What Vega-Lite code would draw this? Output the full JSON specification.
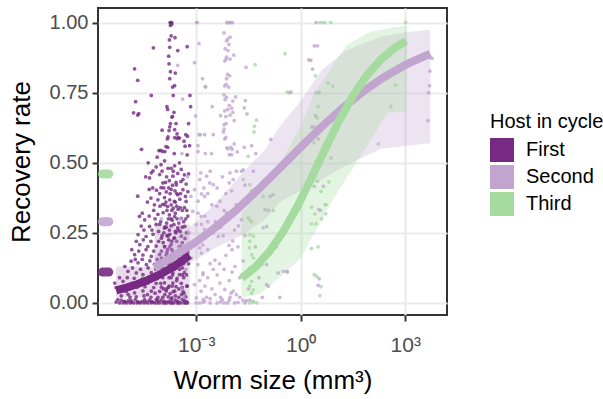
{
  "$schema": "https://vega.github.io/schema/vega-lite/v6.json",
  "width": 349,
  "height": 307,
  "autosize": {"type": "none"},
  "padding": {"left": 98, "top": 8, "right": 156, "bottom": 84},
  "background": "white",
  "config": {
    "font": "Liberation Sans",
    "view": {"stroke": "#333333", "strokeWidth": 2},
    "axis": {
      "domain": false,
      "tickColor": "#333333",
      "tickWidth": 2,
      "tickSize": 6,
      "labelFontSize": 20,
      "labelColor": "#4d4d4d",
      "labelPadding": 4,
      "titleFontSize": 26,
      "titleFontWeight": "normal",
      "titleColor": "black",
      "gridColor": "#ebebeb",
      "gridWidth": 2.2
    },
    "axisY": {"titlePadding": 15},
    "axisX": {"titlePadding": 12, "labelPadding": 13, "labelFontSize": 21},
    "legend": {"orient": "none", "legendX": 392, "legendY": 104, "titleFontSize": 20, "titleFontWeight": "normal", "titleColor": "black", "labelFontSize": 20, "labelColor": "black", "symbolType": "square", "symbolSize": 576, "symbolStrokeWidth": 0, "rowPadding": 3, "labelOffset": 12, "titlePadding": 6, "padding": 0}
  },
  "datasets": {
    "points": [
      {"host":"First","logsize":-3.75,"rate":1},{"host":"First","logsize":-3.72,"rate":1},{"host":"First","logsize":-3.70,"rate":0.995},{"host":"First","logsize":-3.74,"rate":0.99},{"host":"First","logsize":-3.71,"rate":1},
      {"host":"First","logsize":-3.72,"rate":0.953},{"host":"First","logsize":-3.61,"rate":0.946},{"host":"First","logsize":-3.77,"rate":0.938},{"host":"First","logsize":-4.23,"rate":0.91},{"host":"First","logsize":-3.76,"rate":0.912},{"host":"First","logsize":-3.53,"rate":0.90},{"host":"First","logsize":-3.26,"rate":0.914},{"host":"First","logsize":-3.79,"rate":0.88},{"host":"First","logsize":-3.78,"rate":0.853},{"host":"First","logsize":-4.77,"rate":0.835},{"host":"First","logsize":-3.74,"rate":0.825},{"host":"First","logsize":-3.60,"rate":0.82},{"host":"First","logsize":-3.76,"rate":0.80},{"host":"First","logsize":-4.68,"rate":0.794},{"host":"First","logsize":-3.68,"rate":0.77},{"host":"First","logsize":-3.62,"rate":0.775},{"host":"First","logsize":-4.29,"rate":0.74},{"host":"First","logsize":-3.66,"rate":0.74},{"host":"First","logsize":-3.18,"rate":0.74},{"host":"First","logsize":-4.74,"rate":0.718},{"host":"First","logsize":-4.80,"rate":0.678},{"host":"First","logsize":-4.68,"rate":0.67},{"host":"First","logsize":-4.65,"rate":0.675},{"host":"First","logsize":-3.84,"rate":0.70},{"host":"First","logsize":-3.82,"rate":0.69},{"host":"First","logsize":-3.64,"rate":0.68},{"host":"First","logsize":-3.16,"rate":0.70},{"host":"First","logsize":-3.70,"rate":0.663},{"host":"First","logsize":-3.68,"rate":0.665},{"host":"First","logsize":-3.74,"rate":0.64},{"host":"First","logsize":-3.58,"rate":0.64},{"host":"First","logsize":-3.22,"rate":0.64},{"host":"First","logsize":-3.76,"rate":0.628},{"host":"First","logsize":-3.98,"rate":0.616},{"host":"First","logsize":-3.78,"rate":0.615},{"host":"First","logsize":-3.62,"rate":0.618},{"host":"First","logsize":-3.55,"rate":0.603},{"host":"First","logsize":-3.52,"rate":0.59},{"host":"First","logsize":-3.62,"rate":0.59},{"host":"First","logsize":-3.48,"rate":0.588},{"host":"First","logsize":-3.81,"rate":0.592},{"host":"First","logsize":-3.83,"rate":0.585},{"host":"First","logsize":-3.30,"rate":0.60},{"host":"First","logsize":-3.25,"rate":0.595},{"host":"First","logsize":-3.35,"rate":0.577},{"host":"First","logsize":-3.55,"rate":0.586},{"host":"First","logsize":-3.19,"rate":0.561},{"host":"First","logsize":-3.87,"rate":0.558},{"host":"First","logsize":-3.82,"rate":0.555},{"host":"First","logsize":-4.57,"rate":0.548},{"host":"First","logsize":-4.07,"rate":0.543},{"host":"First","logsize":-4.02,"rate":0.544},{"host":"First","logsize":-3.97,"rate":0.541},{"host":"First","logsize":-3.90,"rate":0.54},{"host":"First","logsize":-3.63,"rate":0.533},{"host":"First","logsize":-3.32,"rate":0.559},{"host":"First","logsize":-3.26,"rate":0.528},
      {"host":"First","logsize":-4.29,"rate":0.464},{"host":"First","logsize":-4.15,"rate":0.485},{"host":"First","logsize":-4.01,"rate":0.493},{"host":"First","logsize":-3.91,"rate":0.507},{"host":"First","logsize":-4.05,"rate":0.458},{"host":"First","logsize":-4.34,"rate":0.446},{"host":"First","logsize":-4.24,"rate":0.471},{"host":"First","logsize":-3.81,"rate":0.48},{"host":"First","logsize":-3.62,"rate":0.489},{"host":"First","logsize":-3.53,"rate":0.462},{"host":"First","logsize":-3.43,"rate":0.476},{"host":"First","logsize":-3.67,"rate":0.452},{"host":"First","logsize":-3.34,"rate":0.457},
      {"host":"First","logsize":-3.96,"rate":0.428},{"host":"First","logsize":-3.77,"rate":0.436},{"host":"First","logsize":-3.57,"rate":0.421},{"host":"First","logsize":-3.44,"rate":0.433},{"host":"First","logsize":-3.29,"rate":0.424},{"host":"First","logsize":-3.24,"rate":0.397},{"host":"First","logsize":-4.35,"rate":0.405},{"host":"First","logsize":-4.14,"rate":0.402},{"host":"First","logsize":-4.01,"rate":0.411},{"host":"First","logsize":-3.86,"rate":0.396},{"host":"First","logsize":-3.72,"rate":0.405},{"host":"First","logsize":-3.53,"rate":0.386},{"host":"First","logsize":-3.38,"rate":0.404},
      {"host":"First","logsize":-4.68,"rate":0.381},{"host":"First","logsize":-4.30,"rate":0.374},{"host":"First","logsize":-4.10,"rate":0.368},{"host":"First","logsize":-3.91,"rate":0.376},{"host":"First","logsize":-3.76,"rate":0.368},{"host":"First","logsize":-3.63,"rate":0.362},{"host":"First","logsize":-3.47,"rate":0.37},{"host":"First","logsize":-3.29,"rate":0.362},
      {"host":"First","logsize":-4.20,"rate":0.35},{"host":"First","logsize":-3.96,"rate":0.352},{"host":"First","logsize":-3.82,"rate":0.344},{"host":"First","logsize":-3.66,"rate":0.338},{"host":"First","logsize":-3.52,"rate":0.334},{"host":"First","logsize":-3.34,"rate":0.34},
      {"host":"First","logsize":-4.63,"rate":0.309},{"host":"First","logsize":-4.48,"rate":0.296},{"host":"First","logsize":-4.10,"rate":0.316},{"host":"First","logsize":-3.95,"rate":0.322},{"host":"First","logsize":-3.77,"rate":0.314},{"host":"First","logsize":-3.62,"rate":0.308},{"host":"First","logsize":-3.43,"rate":0.302},{"host":"First","logsize":-3.24,"rate":0.31},
      {"host":"First","logsize":-4.58,"rate":0.274},{"host":"First","logsize":-4.34,"rate":0.273},{"host":"First","logsize":-4.15,"rate":0.28},{"host":"First","logsize":-3.91,"rate":0.267},{"host":"First","logsize":-3.72,"rate":0.275},{"host":"First","logsize":-3.53,"rate":0.268},{"host":"First","logsize":-3.33,"rate":0.273},
      {"host":"First","logsize":-4.67,"rate":0.244},{"host":"First","logsize":-4.44,"rate":0.237},{"host":"First","logsize":-4.24,"rate":0.245},{"host":"First","logsize":-4.00,"rate":0.231},{"host":"First","logsize":-3.81,"rate":0.239},{"host":"First","logsize":-3.62,"rate":0.232},{"host":"First","logsize":-3.43,"rate":0.238},
      {"host":"First","logsize":-4.62,"rate":0.208},{"host":"First","logsize":-4.39,"rate":0.201},{"host":"First","logsize":-4.15,"rate":0.203},{"host":"First","logsize":-3.91,"rate":0.201},{"host":"First","logsize":-3.72,"rate":0.209},{"host":"First","logsize":-3.48,"rate":0.202},
      {"host":"First","logsize":-4.77,"rate":0.172},{"host":"First","logsize":-4.53,"rate":0.171},{"host":"First","logsize":-4.29,"rate":0.166},{"host":"First","logsize":-4.05,"rate":0.173},{"host":"First","logsize":-3.86,"rate":0.171},{"host":"First","logsize":-3.62,"rate":0.172},{"host":"First","logsize":-3.38,"rate":0.171},
      {"host":"First","logsize":-4.87,"rate":0.149},{"host":"First","logsize":-4.67,"rate":0.143},{"host":"First","logsize":-4.43,"rate":0.137},{"host":"First","logsize":-4.20,"rate":0.138},{"host":"First","logsize":-3.95,"rate":0.136},{"host":"First","logsize":-3.77,"rate":0.137},{"host":"First","logsize":-3.53,"rate":0.136},
      {"host":"First","logsize":-4.96,"rate":0.113},{"host":"First","logsize":-4.72,"rate":0.107},{"host":"First","logsize":-4.53,"rate":0.101},{"host":"First","logsize":-4.29,"rate":0.108},{"host":"First","logsize":-4.10,"rate":0.1},{"host":"First","logsize":-3.91,"rate":0.106},{"host":"First","logsize":-3.67,"rate":0.107},{"host":"First","logsize":-3.48,"rate":0.101},{"host":"First","logsize":-3.34,"rate":0.108},
      {"host":"First","logsize":-5.34,"rate":0.071},{"host":"First","logsize":-5.10,"rate":0.077},{"host":"First","logsize":-4.86,"rate":0.07},{"host":"First","logsize":-4.63,"rate":0.072},{"host":"First","logsize":-4.39,"rate":0.071},{"host":"First","logsize":-4.15,"rate":0.07},{"host":"First","logsize":-3.91,"rate":0.072},{"host":"First","logsize":-3.67,"rate":0.071},{"host":"First","logsize":-3.43,"rate":0.07},
      {"host":"First","logsize":-5.20,"rate":0.042},{"host":"First","logsize":-5.01,"rate":0.041},{"host":"First","logsize":-4.77,"rate":0.036},{"host":"First","logsize":-4.53,"rate":0.043},{"host":"First","logsize":-4.29,"rate":0.042},{"host":"First","logsize":-4.05,"rate":0.041},{"host":"First","logsize":-3.86,"rate":0.043},{"host":"First","logsize":-3.62,"rate":0.042},{"host":"First","logsize":-3.38,"rate":0.041},
      {"host":"First","logsize":-5.25,"rate":0.012},{"host":"First","logsize":-5.06,"rate":0.006},{"host":"First","logsize":-4.87,"rate":0.008},{"host":"First","logsize":-4.68,"rate":0.005},{"host":"First","logsize":-4.48,"rate":0.012},{"host":"First","logsize":-4.29,"rate":0.006},{"host":"First","logsize":-4.10,"rate":0.008},{"host":"First","logsize":-3.91,"rate":0.006},{"host":"First","logsize":-3.72,"rate":0.012},{"host":"First","logsize":-3.53,"rate":0.006},{"host":"First","logsize":-3.34,"rate":0.008},
      {"host":"First","logsize":-5.2,"rate":0},{"host":"First","logsize":-5.0,"rate":0},{"host":"First","logsize":-4.8,"rate":0},{"host":"First","logsize":-4.6,"rate":0},{"host":"First","logsize":-4.4,"rate":0},{"host":"First","logsize":-4.2,"rate":0},{"host":"First","logsize":-4.05,"rate":0},{"host":"First","logsize":-3.95,"rate":0},{"host":"First","logsize":-3.85,"rate":0},{"host":"First","logsize":-3.75,"rate":0},{"host":"First","logsize":-3.65,"rate":0},{"host":"First","logsize":-3.55,"rate":0},{"host":"First","logsize":-3.45,"rate":0},{"host":"First","logsize":-3.35,"rate":0},{"host":"First","logsize":-3.25,"rate":0},{"host":"First","logsize":-4.1,"rate":0.02},{"host":"First","logsize":-3.8,"rate":0.022},{"host":"First","logsize":-3.6,"rate":0.025},{"host":"First","logsize":-3.9,"rate":0.03},{"host":"First","logsize":-4.5,"rate":0.025},{"host":"First","logsize":-4.9,"rate":0.02},{"host":"First","logsize":-3.7,"rate":0.018},{"host":"First","logsize":-3.5,"rate":0.02},{"host":"First","logsize":-4.3,"rate":0.02},
      {"host":"First","logsize":-3.72,"rate":0.48},{"host":"First","logsize":-3.68,"rate":0.42},{"host":"First","logsize":-3.75,"rate":0.39},{"host":"First","logsize":-3.60,"rate":0.36},{"host":"First","logsize":-3.70,"rate":0.33},{"host":"First","logsize":-3.80,"rate":0.30},{"host":"First","logsize":-3.64,"rate":0.28},{"host":"First","logsize":-3.77,"rate":0.26},{"host":"First","logsize":-3.58,"rate":0.25},{"host":"First","logsize":-3.70,"rate":0.22},{"host":"First","logsize":-3.82,"rate":0.19},{"host":"First","logsize":-3.66,"rate":0.18},{"host":"First","logsize":-3.74,"rate":0.15},{"host":"First","logsize":-3.62,"rate":0.12},{"host":"First","logsize":-3.78,"rate":0.09},{"host":"First","logsize":-3.69,"rate":0.06},{"host":"First","logsize":-3.86,"rate":0.05},{"host":"First","logsize":-3.85,"rate":0.45},{"host":"First","logsize":-3.58,"rate":0.43},{"host":"First","logsize":-3.90,"rate":0.35},{"host":"First","logsize":-3.55,"rate":0.30},{"host":"First","logsize":-3.84,"rate":0.24},{"host":"First","logsize":-3.52,"rate":0.16},{"host":"First","logsize":-3.94,"rate":0.12},
      {"host":"First","logsize":-4.45,"rate":0.45},{"host":"First","logsize":-4.38,"rate":0.5},{"host":"First","logsize":-4.12,"rate":0.52},{"host":"First","logsize":-3.98,"rate":0.47},{"host":"First","logsize":-3.88,"rate":0.43},{"host":"First","logsize":-3.66,"rate":0.47},{"host":"First","logsize":-3.48,"rate":0.5},{"host":"First","logsize":-3.38,"rate":0.44},{"host":"First","logsize":-3.22,"rate":0.46},
      {"host":"First","logsize":-4.25,"rate":0.41},{"host":"First","logsize":-4.05,"rate":0.39},{"host":"First","logsize":-3.93,"rate":0.41},{"host":"First","logsize":-3.79,"rate":0.41},{"host":"First","logsize":-3.61,"rate":0.4},{"host":"First","logsize":-3.45,"rate":0.39},{"host":"First","logsize":-3.31,"rate":0.38},
      {"host":"First","logsize":-4.4,"rate":0.36},{"host":"First","logsize":-4.22,"rate":0.33},{"host":"First","logsize":-4.04,"rate":0.345},{"host":"First","logsize":-3.87,"rate":0.36},{"host":"First","logsize":-3.72,"rate":0.35},{"host":"First","logsize":-3.56,"rate":0.345},{"host":"First","logsize":-3.40,"rate":0.33},{"host":"First","logsize":-3.27,"rate":0.33},
      {"host":"First","logsize":-4.55,"rate":0.32},{"host":"First","logsize":-4.35,"rate":0.31},{"host":"First","logsize":-4.18,"rate":0.3},{"host":"First","logsize":-4.02,"rate":0.29},{"host":"First","logsize":-3.85,"rate":0.285},{"host":"First","logsize":-3.69,"rate":0.295},{"host":"First","logsize":-3.5,"rate":0.285},{"host":"First","logsize":-3.36,"rate":0.29},
      {"host":"First","logsize":-4.5,"rate":0.26},{"host":"First","logsize":-4.27,"rate":0.26},{"host":"First","logsize":-4.08,"rate":0.255},{"host":"First","logsize":-3.93,"rate":0.25},{"host":"First","logsize":-3.76,"rate":0.245},{"host":"First","logsize":-3.6,"rate":0.255},{"host":"First","logsize":-3.46,"rate":0.255},{"host":"First","logsize":-3.28,"rate":0.25},
      {"host":"First","logsize":-4.72,"rate":0.22},{"host":"First","logsize":-4.52,"rate":0.225},{"host":"First","logsize":-4.3,"rate":0.22},{"host":"First","logsize":-4.08,"rate":0.22},{"host":"First","logsize":-3.95,"rate":0.215},{"host":"First","logsize":-3.79,"rate":0.225},{"host":"First","logsize":-3.56,"rate":0.22},{"host":"First","logsize":-3.4,"rate":0.215},
      {"host":"First","logsize":-4.85,"rate":0.19},{"host":"First","logsize":-4.65,"rate":0.185},{"host":"First","logsize":-4.44,"rate":0.19},{"host":"First","logsize":-4.22,"rate":0.185},{"host":"First","logsize":-4.0,"rate":0.185},{"host":"First","logsize":-3.84,"rate":0.18},{"host":"First","logsize":-3.7,"rate":0.19},{"host":"First","logsize":-3.5,"rate":0.185},{"host":"First","logsize":-3.33,"rate":0.19},
      {"host":"First","logsize":-4.75,"rate":0.155},{"host":"First","logsize":-4.55,"rate":0.155},{"host":"First","logsize":-4.33,"rate":0.15},{"host":"First","logsize":-4.12,"rate":0.155},{"host":"First","logsize":-3.88,"rate":0.155},{"host":"First","logsize":-3.68,"rate":0.155},{"host":"First","logsize":-3.45,"rate":0.15},
      {"host":"First","logsize":-5.05,"rate":0.13},{"host":"First","logsize":-4.83,"rate":0.125},{"host":"First","logsize":-4.6,"rate":0.12},{"host":"First","logsize":-4.38,"rate":0.125},{"host":"First","logsize":-4.16,"rate":0.12},{"host":"First","logsize":-3.98,"rate":0.125},{"host":"First","logsize":-3.82,"rate":0.12},{"host":"First","logsize":-3.58,"rate":0.125},{"host":"First","logsize":-3.4,"rate":0.125},
      {"host":"First","logsize":-5.2,"rate":0.09},{"host":"First","logsize":-4.98,"rate":0.09},{"host":"First","logsize":-4.78,"rate":0.088},{"host":"First","logsize":-4.55,"rate":0.085},{"host":"First","logsize":-4.33,"rate":0.09},{"host":"First","logsize":-4.12,"rate":0.087},{"host":"First","logsize":-3.96,"rate":0.09},{"host":"First","logsize":-3.72,"rate":0.09},{"host":"First","logsize":-3.55,"rate":0.088},{"host":"First","logsize":-3.36,"rate":0.09},
      {"host":"First","logsize":-5.3,"rate":0.055},{"host":"First","logsize":-5.12,"rate":0.058},{"host":"First","logsize":-4.92,"rate":0.055},{"host":"First","logsize":-4.7,"rate":0.056},{"host":"First","logsize":-4.47,"rate":0.058},{"host":"First","logsize":-4.22,"rate":0.055},{"host":"First","logsize":-4.0,"rate":0.056},{"host":"First","logsize":-3.8,"rate":0.055},{"host":"First","logsize":-3.58,"rate":0.058},{"host":"First","logsize":-3.4,"rate":0.055},{"host":"First","logsize":-3.27,"rate":0.06},
      {"host":"First","logsize":-5.15,"rate":0.025},{"host":"First","logsize":-4.95,"rate":0.03},{"host":"First","logsize":-4.72,"rate":0.022},{"host":"First","logsize":-4.4,"rate":0.03},{"host":"First","logsize":-4.18,"rate":0.035},{"host":"First","logsize":-3.96,"rate":0.02},{"host":"First","logsize":-3.75,"rate":0.033},{"host":"First","logsize":-3.42,"rate":0.03},{"host":"First","logsize":-3.3,"rate":0.022},
      {"host":"First","logsize":-5.1,"rate":0},{"host":"First","logsize":-4.9,"rate":0},{"host":"First","logsize":-4.7,"rate":0},{"host":"First","logsize":-4.5,"rate":0},{"host":"First","logsize":-4.3,"rate":0},{"host":"First","logsize":-4.12,"rate":0},{"host":"First","logsize":-3.9,"rate":0},{"host":"First","logsize":-3.7,"rate":0},{"host":"First","logsize":-3.5,"rate":0},{"host":"First","logsize":-3.3,"rate":0},
      {"host":"First","logsize":-5.3,"rate":0.003},{"host":"First","logsize":-5.15,"rate":0.01},{"host":"First","logsize":-5.05,"rate":0.004},{"host":"First","logsize":-4.95,"rate":0.008},{"host":"First","logsize":-4.85,"rate":0.003},{"host":"First","logsize":-4.75,"rate":0.012},{"host":"First","logsize":-4.65,"rate":0.002},{"host":"First","logsize":-4.55,"rate":0.006},{"host":"First","logsize":-4.45,"rate":0.004},{"host":"First","logsize":-4.35,"rate":0.01},{"host":"First","logsize":-4.25,"rate":0.003},{"host":"First","logsize":-4.15,"rate":0.012},{"host":"First","logsize":-4.0,"rate":0.01},{"host":"First","logsize":-3.8,"rate":0.005},{"host":"First","logsize":-3.6,"rate":0.01},{"host":"First","logsize":-3.4,"rate":0.012},{"host":"First","logsize":-3.28,"rate":0.004},
      {"host":"First","logsize":-4.05,"rate":0.28},{"host":"First","logsize":-3.98,"rate":0.24},{"host":"First","logsize":-3.9,"rate":0.2},{"host":"First","logsize":-3.86,"rate":0.27},{"host":"First","logsize":-3.8,"rate":0.14},{"host":"First","logsize":-3.76,"rate":0.2},{"host":"First","logsize":-3.72,"rate":0.3},{"host":"First","logsize":-3.68,"rate":0.1},{"host":"First","logsize":-3.64,"rate":0.23},{"host":"First","logsize":-3.6,"rate":0.17},{"host":"First","logsize":-3.56,"rate":0.08},{"host":"First","logsize":-3.52,"rate":0.26},{"host":"First","logsize":-3.48,"rate":0.12},{"host":"First","logsize":-3.44,"rate":0.2},{"host":"First","logsize":-3.4,"rate":0.27},{"host":"First","logsize":-3.36,"rate":0.14},{"host":"First","logsize":-3.32,"rate":0.23},{"host":"First","logsize":-3.28,"rate":0.1},{"host":"First","logsize":-3.24,"rate":0.18},{"host":"First","logsize":-4.0,"rate":0.16},{"host":"First","logsize":-4.02,"rate":0.07},{"host":"First","logsize":-3.94,"rate":0.05},{"host":"First","logsize":-3.9,"rate":0.27},{"host":"First","logsize":-3.84,"rate":0.33},{"host":"First","logsize":-3.78,"rate":0.06},{"host":"First","logsize":-3.7,"rate":0.13},{"host":"First","logsize":-3.66,"rate":0.04},{"host":"First","logsize":-3.6,"rate":0.32},{"host":"First","logsize":-3.56,"rate":0.39},{"host":"First","logsize":-3.5,"rate":0.05},{"host":"First","logsize":-3.46,"rate":0.34},{"host":"First","logsize":-3.4,"rate":0.1},{"host":"First","logsize":-3.35,"rate":0.035},{"host":"First","logsize":-3.3,"rate":0.3},{"host":"First","logsize":-3.26,"rate":0.06},{"host":"First","logsize":-3.22,"rate":0.14},

      {"host":"Second","logsize":-2.99,"rate":1},{"host":"Second","logsize":-2.97,"rate":1},{"host":"Second","logsize":-2.92,"rate":0.925},{"host":"Second","logsize":-3.05,"rate":0.857},{"host":"Second","logsize":-3.53,"rate":0.847},{"host":"Second","logsize":-2.82,"rate":0.8},{"host":"Second","logsize":-2.74,"rate":0.772},{"host":"Second","logsize":-3.39,"rate":0.727},{"host":"Second","logsize":-3.02,"rate":0.667},{"host":"Second","logsize":-2.92,"rate":0.6},{"host":"Second","logsize":-2.88,"rate":0.6},{"host":"Second","logsize":-2.76,"rate":0.6},{"host":"Second","logsize":-2.95,"rate":0.561},{"host":"Second","logsize":-2.95,"rate":0.54},{"host":"Second","logsize":-3.41,"rate":0.533},{"host":"Second","logsize":-2.74,"rate":0.533},
      {"host":"Second","logsize":-2.12,"rate":1},{"host":"Second","logsize":-2.08,"rate":1},{"host":"Second","logsize":-2.04,"rate":1},{"host":"Second","logsize":-2.0,"rate":1},{"host":"Second","logsize":-1.96,"rate":1},{"host":"Second","logsize":-2.20,"rate":0.963},{"host":"Second","logsize":-2.03,"rate":0.948},{"host":"Second","logsize":-2.13,"rate":0.935},{"host":"Second","logsize":-2.10,"rate":0.94},{"host":"Second","logsize":-2.06,"rate":0.922},{"host":"Second","logsize":-2.17,"rate":0.907},{"host":"Second","logsize":-2.09,"rate":0.9},{"host":"Second","logsize":-1.92,"rate":0.884},{"host":"Second","logsize":-2.13,"rate":0.877},{"host":"Second","logsize":-2.03,"rate":0.87},{"host":"Second","logsize":-2.18,"rate":0.863},{"host":"Second","logsize":-2.14,"rate":0.87},{"host":"Second","logsize":-1.57,"rate":0.84},{"host":"Second","logsize":-2.13,"rate":0.8},{"host":"Second","logsize":-2.10,"rate":0.815},{"host":"Second","logsize":-2.04,"rate":0.81},{"host":"Second","logsize":-2.73,"rate":0.77},{"host":"Second","logsize":-2.18,"rate":0.774},{"host":"Second","logsize":-2.14,"rate":0.78},{"host":"Second","logsize":-2.07,"rate":0.77},{"host":"Second","logsize":-2.20,"rate":0.742},{"host":"Second","logsize":-2.13,"rate":0.733},{"host":"Second","logsize":-2.17,"rate":0.725},{"host":"Second","logsize":-1.87,"rate":0.735},{"host":"Second","logsize":-1.95,"rate":0.72},{"host":"Second","logsize":-1.59,"rate":0.722},{"host":"Second","logsize":-2.54,"rate":0.70},{"host":"Second","logsize":-1.62,"rate":0.696},{"host":"Second","logsize":-2.05,"rate":0.705},{"host":"Second","logsize":-2.09,"rate":0.69},{"host":"Second","logsize":-1.98,"rate":0.695},{"host":"Second","logsize":-2.18,"rate":0.685},{"host":"Second","logsize":-1.95,"rate":0.68},{"host":"Second","logsize":-2.03,"rate":0.67},{"host":"Second","logsize":-2.15,"rate":0.665},{"host":"Second","logsize":-2.30,"rate":0.668},{"host":"Second","logsize":-1.54,"rate":0.674},{"host":"Second","logsize":-1.91,"rate":0.65},{"host":"Second","logsize":-2.20,"rate":0.636},{"host":"Second","logsize":-2.14,"rate":0.64},{"host":"Second","logsize":-2.20,"rate":0.62},{"host":"Second","logsize":-2.22,"rate":0.61},{"host":"Second","logsize":-2.51,"rate":0.6},{"host":"Second","logsize":-2.15,"rate":0.59},{"host":"Second","logsize":-2.18,"rate":0.585},{"host":"Second","logsize":-0.86,"rate":0.583},{"host":"Second","logsize":-1.91,"rate":0.567},{"host":"Second","logsize":-2.12,"rate":0.553},{"host":"Second","logsize":-2.01,"rate":0.555},{"host":"Second","logsize":-2.09,"rate":0.55},{"host":"Second","logsize":-1.97,"rate":0.548},{"host":"Second","logsize":-1.62,"rate":0.555},{"host":"Second","logsize":-1.41,"rate":0.561},{"host":"Second","logsize":-1.82,"rate":0.539},{"host":"Second","logsize":-2.56,"rate":0.533},{"host":"Second","logsize":-1.29,"rate":0.533},{"host":"Second","logsize":-2.05,"rate":0.529},{"host":"Second","logsize":-1.99,"rate":0.529},
      {"host":"Second","logsize":-0.28,"rate":0.752},{"host":"Second","logsize":-0.33,"rate":0.75},{"host":"Second","logsize":0.44,"rate":1},{"host":"Second","logsize":0.39,"rate":0.917},{"host":"Second","logsize":0.48,"rate":0.917},{"host":"Second","logsize":0.23,"rate":0.867},{"host":"Second","logsize":0.29,"rate":0.865},{"host":"Second","logsize":0.34,"rate":0.834},{"host":"Second","logsize":3.69,"rate":0.875},{"host":"Second","logsize":3.77,"rate":0.872},{"host":"Second","logsize":3.71,"rate":0.827},{"host":"Second","logsize":3.70,"rate":0.775},{"host":"Second","logsize":3.67,"rate":0.75},{"host":"Second","logsize":3.65,"rate":0.65},{"host":"Second","logsize":0.53,"rate":0.75},{"host":"Second","logsize":0.43,"rate":0.668},{"host":"Second","logsize":0.32,"rate":0.627},{"host":"Second","logsize":0.38,"rate":0.628},{"host":"Second","logsize":0.50,"rate":0.585},{"host":"Second","logsize":0.39,"rate":0.416},{"host":"Second","logsize":0.65,"rate":0.416},{"host":"Second","logsize":0.52,"rate":0.333},{"host":"Second","logsize":0.57,"rate":0.33},{"host":"Second","logsize":0.53,"rate":0.086},{"host":"Second","logsize":0.50,"rate":0.063},
      {"host":"Second","logsize":-2.87,"rate":0.464},{"host":"Second","logsize":-2.70,"rate":0.452},{"host":"Second","logsize":-2.61,"rate":0.428},{"host":"Second","logsize":-2.51,"rate":0.422},{"host":"Second","logsize":-2.78,"rate":0.41},{"host":"Second","logsize":-2.03,"rate":0.464},{"host":"Second","logsize":-1.94,"rate":0.44},{"host":"Second","logsize":-2.05,"rate":0.428},{"host":"Second","logsize":-1.98,"rate":0.40},{"host":"Second","logsize":-1.70,"rate":0.47},{"host":"Second","logsize":-1.65,"rate":0.475},{"host":"Second","logsize":-1.36,"rate":0.47},{"host":"Second","logsize":-2.85,"rate":0.389},{"host":"Second","logsize":-2.76,"rate":0.38},{"host":"Second","logsize":-2.67,"rate":0.39},{"host":"Second","logsize":-2.32,"rate":0.363},{"host":"Second","logsize":-2.41,"rate":0.345},{"host":"Second","logsize":-2.13,"rate":0.321},{"host":"Second","logsize":-1.94,"rate":0.31},{"host":"Second","logsize":-2.05,"rate":0.30},{"host":"Second","logsize":-2.75,"rate":0.31},{"host":"Second","logsize":-2.67,"rate":0.29},{"host":"Second","logsize":-2.85,"rate":0.28},{"host":"Second","logsize":-1.70,"rate":0.297},{"host":"Second","logsize":-1.79,"rate":0.275},{"host":"Second","logsize":-2.51,"rate":0.25},{"host":"Second","logsize":-2.37,"rate":0.237},{"host":"Second","logsize":-2.23,"rate":0.24},{"host":"Second","logsize":-1.95,"rate":0.221},{"host":"Second","logsize":-2.06,"rate":0.205},{"host":"Second","logsize":-1.97,"rate":0.19},{"host":"Second","logsize":-2.81,"rate":0.207},{"host":"Second","logsize":-2.67,"rate":0.19},{"host":"Second","logsize":-2.85,"rate":0.178},{"host":"Second","logsize":-2.46,"rate":0.153},{"host":"Second","logsize":-2.33,"rate":0.14},{"host":"Second","logsize":-2.51,"rate":0.12},{"host":"Second","logsize":-1.89,"rate":0.13},{"host":"Second","logsize":-1.97,"rate":0.11},{"host":"Second","logsize":-1.75,"rate":0.09},{"host":"Second","logsize":-2.80,"rate":0.107},{"host":"Second","logsize":-2.67,"rate":0.09},{"host":"Second","logsize":-2.75,"rate":0.06},{"host":"Second","logsize":-2.32,"rate":0.071},{"host":"Second","logsize":-2.18,"rate":0.048},{"host":"Second","logsize":-2.46,"rate":0.03},{"host":"Second","logsize":-1.94,"rate":0.042},{"host":"Second","logsize":-1.85,"rate":0.03},{"host":"Second","logsize":-2.03,"rate":0.02},{"host":"Second","logsize":-2.7,"rate":0.02},{"host":"Second","logsize":-2.6,"rate":0.015},{"host":"Second","logsize":-2.8,"rate":0.013},{"host":"Second","logsize":-1.66,"rate":0.01},{"host":"Second","logsize":-1.56,"rate":0.008},{"host":"Second","logsize":-1.46,"rate":0.01},{"host":"Second","logsize":-1.36,"rate":0.005},{"host":"Second","logsize":-0.98,"rate":0.065},{"host":"Second","logsize":-0.93,"rate":0.06},{"host":"Second","logsize":-0.65,"rate":0.107},{"host":"Second","logsize":-0.40,"rate":0.113},{"host":"Second","logsize":-0.88,"rate":0.38},{"host":"Second","logsize":-1.03,"rate":0.333},{"host":"Second","logsize":-0.93,"rate":0.33},{"host":"Second","logsize":-0.79,"rate":0.386},{"host":"Second","logsize":-1.08,"rate":0.268},{"host":"Second","logsize":-0.98,"rate":0.273},{"host":"Second","logsize":-1.12,"rate":0.137},{"host":"Second","logsize":-0.98,"rate":0.137},{"host":"Second","logsize":-0.50,"rate":0.113},{"host":"Second","logsize":-0.38,"rate":0.11},
      {"host":"Second","logsize":-3.05,"rate":0.404},{"host":"Second","logsize":-2.95,"rate":0.363},{"host":"Second","logsize":-3.10,"rate":0.327},{"host":"Second","logsize":-2.86,"rate":0.309},{"host":"Second","logsize":-3.0,"rate":0.279},{"host":"Second","logsize":-2.76,"rate":0.262},{"host":"Second","logsize":-3.05,"rate":0.22},{"host":"Second","logsize":-2.90,"rate":0.196},{"host":"Second","logsize":-3.14,"rate":0.16},{"host":"Second","logsize":-2.95,"rate":0.137},{"host":"Second","logsize":-2.81,"rate":0.101},{"host":"Second","logsize":-3.05,"rate":0.065},{"host":"Second","logsize":-2.86,"rate":0.042},{"host":"Second","logsize":-3.0,"rate":0.018},{"host":"Second","logsize":-2.76,"rate":0.006},
      {"host":"Second","logsize":-3.0,"rate":0},{"host":"Second","logsize":-2.9,"rate":0},{"host":"Second","logsize":-2.8,"rate":0.003},{"host":"Second","logsize":-2.6,"rate":0},{"host":"Second","logsize":-2.4,"rate":0},{"host":"Second","logsize":-2.3,"rate":0.004},{"host":"Second","logsize":-2.2,"rate":0},{"host":"Second","logsize":-2.1,"rate":0},{"host":"Second","logsize":-1.9,"rate":0},{"host":"Second","logsize":-1.8,"rate":0.002},{"host":"Second","logsize":-1.6,"rate":0},{"host":"Second","logsize":-2.05,"rate":0.01},{"host":"Second","logsize":-2.25,"rate":0.012},
      {"host":"Second","logsize":-3.4,"rate":0.05},{"host":"Second","logsize":-3.3,"rate":0.12},{"host":"Second","logsize":-3.5,"rate":0.2},{"host":"Second","logsize":-3.2,"rate":0.25},{"host":"Second","logsize":-3.45,"rate":0.3},{"host":"Second","logsize":-3.35,"rate":0.02},{"host":"Second","logsize":-4.0,"rate":0.3},{"host":"Second","logsize":-3.25,"rate":0.45},{"host":"Second","logsize":-3.15,"rate":0.38},
      {"host":"Second","logsize":-2.9,"rate":0.44},{"host":"Second","logsize":-2.6,"rate":0.47},{"host":"Second","logsize":-2.4,"rate":0.41},{"host":"Second","logsize":-2.25,"rate":0.45},{"host":"Second","logsize":-2.15,"rate":0.39},{"host":"Second","logsize":-1.85,"rate":0.47},{"host":"Second","logsize":-1.6,"rate":0.42},{"host":"Second","logsize":-1.5,"rate":0.36},{"host":"Second","logsize":-2.55,"rate":0.35},{"host":"Second","logsize":-2.2,"rate":0.33},{"host":"Second","logsize":-1.85,"rate":0.35},{"host":"Second","logsize":-2.95,"rate":0.32},{"host":"Second","logsize":-2.45,"rate":0.29},{"host":"Second","logsize":-2.3,"rate":0.27},{"host":"Second","logsize":-1.9,"rate":0.26},{"host":"Second","logsize":-1.6,"rate":0.24},{"host":"Second","logsize":-2.7,"rate":0.24},{"host":"Second","logsize":-2.15,"rate":0.17},{"host":"Second","logsize":-1.8,"rate":0.2},{"host":"Second","logsize":-2.6,"rate":0.14},{"host":"Second","logsize":-2.4,"rate":0.1},{"host":"Second","logsize":-2.2,"rate":0.12},{"host":"Second","logsize":-2.05,"rate":0.08},{"host":"Second","logsize":-1.65,"rate":0.15},{"host":"Second","logsize":-1.3,"rate":0.2},{"host":"Second","logsize":-1.2,"rate":0.09},{"host":"Second","logsize":-2.9,"rate":0.08},{"host":"Second","logsize":-2.55,"rate":0.05},{"host":"Second","logsize":-2.3,"rate":0.02},{"host":"Second","logsize":-2.0,"rate":0.035},{"host":"Second","logsize":-1.75,"rate":0.02},{"host":"Second","logsize":-1.5,"rate":0.05},{"host":"Second","logsize":-0.7,"rate":0.2},{"host":"Second","logsize":-0.6,"rate":0.02},{"host":"Second","logsize":-1.1,"rate":0.02},{"host":"Second","logsize":-0.85,"rate":0.45},

      {"host":"Third","logsize":-0.45,"rate":0.889},{"host":"Third","logsize":-1.31,"rate":0.85},{"host":"Third","logsize":-0.39,"rate":0.752},{"host":"Third","logsize":-1.27,"rate":0.652},{"host":"Third","logsize":-1.33,"rate":0.63},{"host":"Third","logsize":-1.34,"rate":0.61},{"host":"Third","logsize":-1.51,"rate":0.523},
      {"host":"Third","logsize":0.55,"rate":1},{"host":"Third","logsize":0.63,"rate":1},{"host":"Third","logsize":0.70,"rate":1},{"host":"Third","logsize":0.86,"rate":1},{"host":"Third","logsize":3.01,"rate":1},{"host":"Third","logsize":0.42,"rate":0.81},{"host":"Third","logsize":0.79,"rate":0.784},{"host":"Third","logsize":0.92,"rate":0.773},{"host":"Third","logsize":0.44,"rate":0.75},{"host":"Third","logsize":2.72,"rate":0.777},{"host":"Third","logsize":0.50,"rate":0.70},{"host":"Third","logsize":2.59,"rate":0.70},{"host":"Third","logsize":0.47,"rate":0.66},{"host":"Third","logsize":0.46,"rate":0.624},{"host":"Third","logsize":0.38,"rate":0.571},{"host":"Third","logsize":2.23,"rate":0.567},{"host":"Third","logsize":0.87,"rate":0.517},
      {"host":"Third","logsize":0.48,"rate":0.434},{"host":"Third","logsize":0.81,"rate":0.432},{"host":"Third","logsize":0.58,"rate":0.398},{"host":"Third","logsize":0.31,"rate":0.342},{"host":"Third","logsize":0.73,"rate":0.351},{"host":"Third","logsize":0.70,"rate":0.35},{"host":"Third","logsize":0.41,"rate":0.318},{"host":"Third","logsize":0.72,"rate":0.318},{"host":"Third","logsize":0.60,"rate":0.30},{"host":"Third","logsize":0.31,"rate":0.282},{"host":"Third","logsize":0.44,"rate":0.282},{"host":"Third","logsize":0.31,"rate":0.194},{"host":"Third","logsize":0.50,"rate":0.20},{"host":"Third","logsize":0.39,"rate":0.101},{"host":"Third","logsize":0.46,"rate":0.095},{"host":"Third","logsize":0.58,"rate":0.058},{"host":"Third","logsize":0.55,"rate":0.026},
      {"host":"Third","logsize":-1.65,"rate":0.44},{"host":"Third","logsize":-1.46,"rate":0.422},{"host":"Third","logsize":-1.41,"rate":0.40},{"host":"Third","logsize":-1.51,"rate":0.303},{"host":"Third","logsize":-1.46,"rate":0.296},{"host":"Third","logsize":-1.41,"rate":0.29},{"host":"Third","logsize":-1.46,"rate":0.244},{"host":"Third","logsize":-1.36,"rate":0.238},{"host":"Third","logsize":-1.46,"rate":0.22},{"host":"Third","logsize":-1.48,"rate":0.196},{"host":"Third","logsize":-1.41,"rate":0.172},{"host":"Third","logsize":-1.36,"rate":0.16},{"host":"Third","logsize":-1.46,"rate":0.125},{"host":"Third","logsize":-1.51,"rate":0.107},{"host":"Third","logsize":-1.41,"rate":0.077},{"host":"Third","logsize":-1.46,"rate":0.06},{"host":"Third","logsize":-1.36,"rate":0.047},{"host":"Third","logsize":-1.41,"rate":0.035},{"host":"Third","logsize":-1.36,"rate":0.0035},{"host":"Third","logsize":-1.26,"rate":0},{"host":"Third","logsize":-1.46,"rate":0},{"host":"Third","logsize":-1.08,"rate":0.38},{"host":"Third","logsize":-0.79,"rate":0.33}
    ],
    "ribbons": [
      {"host":"First","logsize":-5.3,"lower":0.02,"upper":0.13},{"host":"First","logsize":-4.2,"lower":0.02,"upper":0.13},{"host":"First","logsize":-4.19,"lower":0.0,"upper":0.28},{"host":"First","logsize":-3.19,"lower":0.0,"upper":0.28},
      {"host":"Second","logsize":-4.2,"lower":0.08,"upper":0.17},{"host":"Second","logsize":-3.6,"lower":0.12,"upper":0.23},{"host":"Second","logsize":-3.0,"lower":0.155,"upper":0.29},{"host":"Second","logsize":-2.4,"lower":0.2,"upper":0.36},{"host":"Second","logsize":-1.7,"lower":0.24,"upper":0.46},{"host":"Second","logsize":-1.0,"lower":0.3,"upper":0.55},{"host":"Second","logsize":-0.6,"lower":0.36,"upper":0.63},{"host":"Second","logsize":0.0,"lower":0.4,"upper":0.72},{"host":"Second","logsize":0.6,"lower":0.44,"upper":0.83},{"host":"Second","logsize":1.3,"lower":0.49,"upper":0.9},{"host":"Second","logsize":2.3,"lower":0.55,"upper":0.95},{"host":"Second","logsize":3.0,"lower":0.56,"upper":0.965},{"host":"Second","logsize":3.72,"lower":0.57,"upper":0.975},
      {"host":"Third","logsize":-1.7,"lower":0.02,"upper":0.32},{"host":"Third","logsize":-1.2,"lower":0.03,"upper":0.39},{"host":"Third","logsize":-0.84,"lower":0.065,"upper":0.45},{"host":"Third","logsize":-0.4,"lower":0.113,"upper":0.54},{"host":"Third","logsize":0.0,"lower":0.16,"upper":0.63},{"host":"Third","logsize":0.4,"lower":0.25,"upper":0.75},{"host":"Third","logsize":0.93,"lower":0.37,"upper":0.85},{"host":"Third","logsize":1.32,"lower":0.446,"upper":0.92},{"host":"Third","logsize":1.95,"lower":0.57,"upper":0.965},{"host":"Third","logsize":2.5,"lower":0.68,"upper":0.98},{"host":"Third","logsize":3.05,"lower":0.68,"upper":0.99}
    ],
    "fits": [
      {"host":"First","logsize":-5.3,"rate":0.045},{"host":"First","logsize":-5.0,"rate":0.0549},{"host":"First","logsize":-4.7,"rate":0.0668},{"host":"First","logsize":-4.4,"rate":0.081},{"host":"First","logsize":-4.1,"rate":0.098},{"host":"First","logsize":-3.8,"rate":0.118},{"host":"First","logsize":-3.5,"rate":0.1416},{"host":"First","logsize":-3.19,"rate":0.17},
      {"host":"Second","logsize":-4.2,"rate":0.125},{"host":"Second","logsize":-3.6,"rate":0.171},{"host":"Second","logsize":-3.0,"rate":0.218},{"host":"Second","logsize":-2.4,"rate":0.274},{"host":"Second","logsize":-1.8,"rate":0.337},{"host":"Second","logsize":-1.2,"rate":0.407},{"host":"Second","logsize":-0.6,"rate":0.481},{"host":"Second","logsize":0.0,"rate":0.556},{"host":"Second","logsize":0.6,"rate":0.628},{"host":"Second","logsize":1.2,"rate":0.695},{"host":"Second","logsize":1.8,"rate":0.755},{"host":"Second","logsize":2.4,"rate":0.806},{"host":"Second","logsize":3.0,"rate":0.849},{"host":"Second","logsize":3.72,"rate":0.889},
      {"host":"Third","logsize":-1.69,"rate":0.0887},{"host":"Third","logsize":-1.3,"rate":0.128},{"host":"Third","logsize":-0.9,"rate":0.183},{"host":"Third","logsize":-0.5,"rate":0.255},{"host":"Third","logsize":-0.1,"rate":0.343},{"host":"Third","logsize":0.3,"rate":0.4435},{"host":"Third","logsize":0.7,"rate":0.549},{"host":"Third","logsize":1.1,"rate":0.65},{"host":"Third","logsize":1.5,"rate":0.739},{"host":"Third","logsize":1.9,"rate":0.812},{"host":"Third","logsize":2.3,"rate":0.868},{"host":"Third","logsize":2.7,"rate":0.91},{"host":"Third","logsize":3.03,"rate":0.935}
    ],
    "stacks": [
      {"host":"First","logsize":-5.69,"rate":0.11},{"host":"First","logsize":-5.51,"rate":0.11},
      {"host":"Second","logsize":-5.69,"rate":0.29},{"host":"Second","logsize":-5.51,"rate":0.29},
      {"host":"Third","logsize":-5.69,"rate":0.46},{"host":"Third","logsize":-5.51,"rate":0.46}
    ]
  },
  "layer": [
    {
      "data": {"name": "points"},
      "mark": {"type": "circle", "size": 14, "opacity": 0.8},
      "encoding": {
        "x": {"field": "logsize", "type": "quantitative", "scale": {"domain": [-5.82, 4.2], "nice": false, "zero": false},
              "axis": {"values": [-3, 0, 3], "labelExpr": "datum.value == -3 ? '10⁻³' : datum.value == 0 ? '10⁰' : '10³'", "title": "Worm size (mm³)"}},
        "y": {"field": "rate", "type": "quantitative", "scale": {"domain": [-0.043, 1.052], "nice": false, "zero": false},
              "axis": {"values": [0, 0.25, 0.5, 0.75, 1], "format": ".2f", "title": "Recovery rate"}},
        "color": {"field": "host", "type": "nominal", "title": "Host in cycle",
                  "scale": {"domain": ["First", "Second", "Third"], "range": ["#762a83", "#c2a5cf", "#a6dba0"]},
                  "legend": {"symbolOpacity": 1}}
      }
    },
    {
      "data": {"name": "ribbons"},
      "mark": {"type": "area"},
      "encoding": {
        "x": {"field": "logsize", "type": "quantitative", "axis": {"values": [-3, 0, 3], "labelExpr": "datum.value == -3 ? '10⁻³' : datum.value == 0 ? '10⁰' : '10³'", "title": "Worm size (mm³)"}},
        "y": {"field": "lower", "type": "quantitative", "stack": null, "axis": {"values": [0, 0.25, 0.5, 0.75, 1], "format": ".2f", "title": "Recovery rate"}},
        "y2": {"field": "upper"},
        "color": {"field": "host", "type": "nominal", "title": "Host in cycle", "legend": {"symbolOpacity": 1}},
        "opacity": {"condition": {"test": "datum.host == 'First'", "value": 0.16}, "value": 0.3}
      }
    },
    {
      "data": {"name": "fits"},
      "mark": {"type": "line", "strokeWidth": 8, "strokeCap": "butt"},
      "encoding": {
        "x": {"field": "logsize", "type": "quantitative", "axis": {"values": [-3, 0, 3], "labelExpr": "datum.value == -3 ? '10⁻³' : datum.value == 0 ? '10⁰' : '10³'", "title": "Worm size (mm³)"}},
        "y": {"field": "rate", "type": "quantitative", "axis": {"values": [0, 0.25, 0.5, 0.75, 1], "format": ".2f", "title": "Recovery rate"}},
        "color": {"field": "host", "type": "nominal", "title": "Host in cycle", "legend": {"symbolOpacity": 1}}
      }
    },
    {
      "data": {"name": "stacks"},
      "mark": {"type": "line", "strokeWidth": 9, "strokeCap": "round", "opacity": 0.9},
      "encoding": {
        "x": {"field": "logsize", "type": "quantitative", "axis": {"values": [-3, 0, 3], "labelExpr": "datum.value == -3 ? '10⁻³' : datum.value == 0 ? '10⁰' : '10³'", "title": "Worm size (mm³)"}},
        "y": {"field": "rate", "type": "quantitative", "axis": {"values": [0, 0.25, 0.5, 0.75, 1], "format": ".2f", "title": "Recovery rate"}},
        "color": {"field": "host", "type": "nominal", "title": "Host in cycle", "legend": {"symbolOpacity": 1}}
      }
    }
  ]
}
